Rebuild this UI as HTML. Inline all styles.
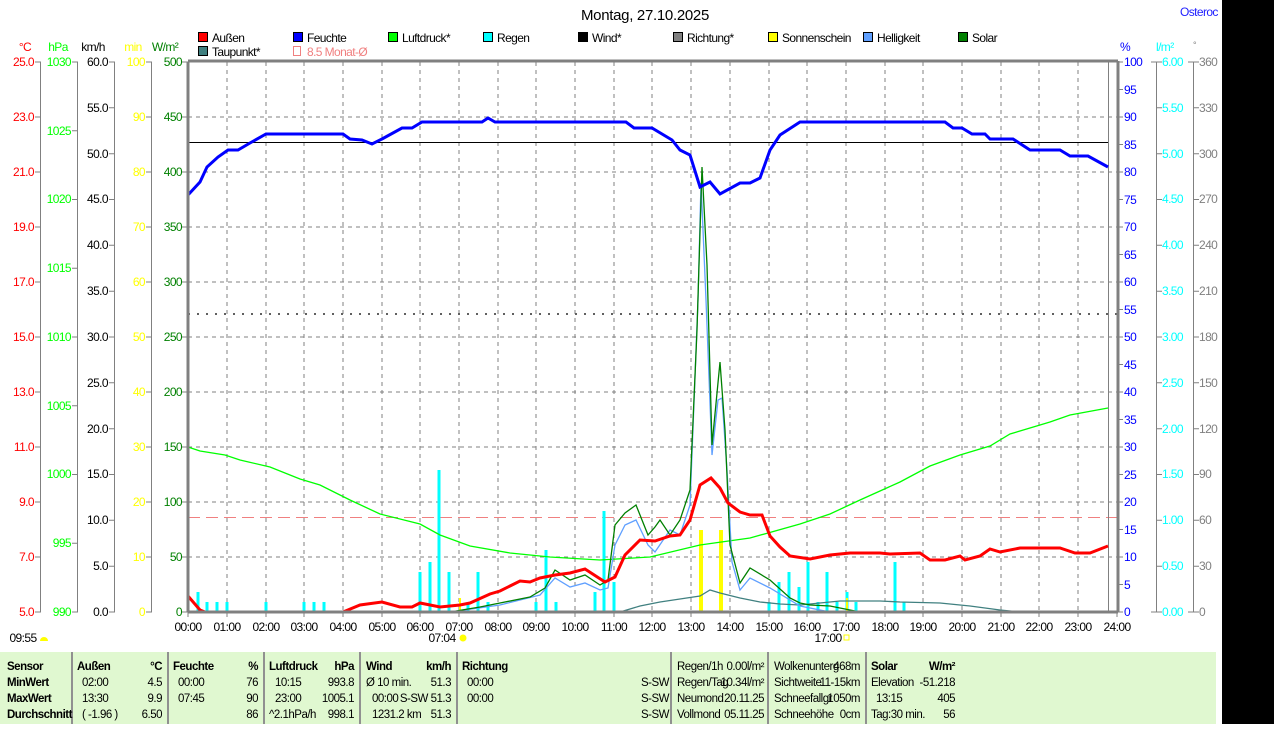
<!DOCTYPE html>
<html><head><meta charset="utf-8"><style>
body{margin:0;background:#fff;width:1274px;height:724px;overflow:hidden;position:relative;font-family:"Liberation Sans",Arial,sans-serif}
svg text{font-family:"Liberation Sans",Arial,sans-serif;font-size:12px;letter-spacing:-0.6px}
.tb text{font-size:11.5px;letter-spacing:-0.5px}
</style></head><body>
<svg width="1274" height="724" viewBox="0 0 1274 724" xmlns="http://www.w3.org/2000/svg">
<rect x="1222" y="0" width="52" height="724" fill="#000"/>
<text x="645" y="20" text-anchor="middle" style="font-size:15px;letter-spacing:-0.3px" fill="#000">Montag, 27.10.2025</text>
<text x="1180" y="16" fill="#2020ff">Osteroc</text>
<g stroke="#000" stroke-width="1">
<rect x="198.5" y="32.5" width="9" height="9" fill="#f00"/>
<rect x="293.5" y="32.5" width="9" height="9" fill="#00f"/>
<rect x="388.5" y="32.5" width="9" height="9" fill="#0f0"/>
<rect x="483.5" y="32.5" width="9" height="9" fill="#0ff"/>
<rect x="578.5" y="32.5" width="9" height="9" fill="#000"/>
<rect x="673.5" y="32.5" width="9" height="9" fill="#808080"/>
<rect x="768.5" y="32.5" width="9" height="9" fill="#ff0"/>
<rect x="863.5" y="32.5" width="9" height="9" fill="#60a0ff"/>
<rect x="958.5" y="32.5" width="9" height="9" fill="#008000"/>
<rect x="198.5" y="46.5" width="9" height="9" fill="#408080"/>
</g>
<rect x="293.5" y="46.5" width="7" height="9" fill="none" stroke="#f08080"/>
<g fill="#000">
<text x="212" y="42">Außen</text><text x="307" y="42">Feuchte</text><text x="402" y="42">Luftdruck*</text>
<text x="497" y="42">Regen</text><text x="592" y="42">Wind*</text><text x="687" y="42">Richtung*</text>
<text x="782" y="42">Sonnenschein</text><text x="877" y="42">Helligkeit</text><text x="972" y="42">Solar</text>
<text x="212" y="56">Taupunkt*</text></g>
<text x="307" y="56" fill="#f08080">8.5 Monat-Ø</text>
<text x="25" y="51" text-anchor="middle" fill="#f00">°C</text>
<text x="58" y="51" text-anchor="middle" fill="#0f0">hPa</text>
<text x="93" y="51" text-anchor="middle" fill="#000">km/h</text>
<text x="133" y="51" text-anchor="middle" fill="#ff0">min</text>
<text x="165" y="51" text-anchor="middle" fill="#008000">W/m²</text>
<text x="1120" y="51" fill="#00f">%</text>
<text x="1156" y="51" fill="#0ff">l/m²</text>
<text x="1193" y="48" fill="#808080" style="font-size:9px">°</text>
<g stroke="#808080" stroke-dasharray="4,4" stroke-width="1">
<path d="M227 62V612M266 62V612M304 62V612M343 62V612M382 62V612M420 62V612M459 62V612M498 62V612M536 62V612M575 62V612M614 62V612M652 62V612M691 62V612M730 62V612M769 62V612M807 62V612M846 62V612M885 62V612M923 62V612M962 62V612M1001 62V612M1039 62V612M1078 62V612"/>
<path d="M188 117H1117M188 172H1117M188 227H1117M188 282H1117M188 337H1117M188 392H1117M188 447H1117M188 502H1117M188 557H1117"/>
</g>
<path d="M188 314H1117" stroke="#606060" stroke-width="2" stroke-dasharray="2,7"/>
<path d="M188 517.5H1117" stroke="#f08080" stroke-dasharray="12,6"/>
<path d="M188 142.5H1108" stroke="#000"/>
<path d="M1108.5 62V612" stroke="#808080"/>
<g stroke="#808080" stroke-width="1" fill="none">
<path d="M40.5 62V612M77.5 62V612M114.5 62V612M151.5 62V612"/>
<path d="M35 62H41M35 117H41M35 172H41M35 227H41M35 282H41M35 337H41M35 392H41M35 447H41M35 502H41M35 557H41M35 612H41"/>
<path d="M72 62H78M72 130.75H78M72 199.5H78M72 268.25H78M72 337H78M72 405.75H78M72 474.5H78M72 543.25H78M72 612H78"/>
<path d="M109 62H115M109 107.8H115M109 153.7H115M109 199.5H115M109 245.3H115M109 291.2H115M109 337H115M109 382.8H115M109 428.7H115M109 474.5H115M109 520.3H115M109 566.2H115M109 612H115"/>
<path d="M146 62H152M146 117H152M146 172H152M146 227H152M146 282H152M146 337H152M146 392H152M146 447H152M146 502H152M146 557H152M146 612H152"/>
<path d="M182 62H188M182 117H188M182 172H188M182 227H188M182 282H188M182 337H188M182 392H188M182 447H188M182 502H188M182 557H188M182 612H188"/>
<path d="M1156.5 62V612M1193.5 62V612"/>
<path d="M1117 62H1123M1117 89.5H1123M1117 117H1123M1117 144.5H1123M1117 172H1123M1117 199.5H1123M1117 227H1123M1117 254.5H1123M1117 282H1123M1117 309.5H1123M1117 337H1123M1117 364.5H1123M1117 392H1123M1117 419.5H1123M1117 447H1123M1117 474.5H1123M1117 502H1123M1117 529.5H1123M1117 557H1123M1117 584.5H1123M1117 612H1123"/>
<path d="M1151 62H1162M1156 107.8H1162M1156 153.7H1162M1156 199.5H1162M1156 245.3H1162M1156 291.2H1162M1156 337H1162M1156 382.8H1162M1156 428.7H1162M1156 474.5H1162M1156 520.3H1162M1156 566.2H1162M1151 612H1162"/>
<path d="M1188 62H1199M1193 107.8H1199M1193 153.7H1199M1193 199.5H1199M1193 245.3H1199M1193 291.2H1199M1193 337H1199M1193 382.8H1199M1193 428.7H1199M1193 474.5H1199M1193 520.3H1199M1193 566.2H1199M1188 612H1199"/>
<path d="M188 612V617M227 612V617M266 612V617M304 612V617M343 612V617M382 612V617M420 612V617M459 612V617M498 612V617M536 612V617M575 612V617M614 612V617M652 612V617M691 612V617M730 612V617M769 612V617M807 612V617M846 612V617M885 612V617M923 612V617M962 612V617M1001 612V617M1039 612V617M1078 612V617M1117 612V617"/>
</g>
<g text-anchor="end" fill="#f00">
<text x="34" y="66">25.0</text><text x="34" y="121">23.0</text><text x="34" y="176">21.0</text><text x="34" y="231">19.0</text><text x="34" y="286">17.0</text><text x="34" y="341">15.0</text><text x="34" y="396">13.0</text><text x="34" y="451">11.0</text><text x="34" y="506">9.0</text><text x="34" y="561">7.0</text><text x="34" y="616">5.0</text></g>
<g text-anchor="end" fill="#0f0">
<text x="71" y="66">1030</text><text x="71" y="135">1025</text><text x="71" y="203">1020</text><text x="71" y="272">1015</text><text x="71" y="341">1010</text><text x="71" y="410">1005</text><text x="71" y="478">1000</text><text x="71" y="547">995</text><text x="71" y="616">990</text></g>
<g text-anchor="end" fill="#000">
<text x="108" y="66">60.0</text><text x="108" y="112">55.0</text><text x="108" y="158">50.0</text><text x="108" y="203">45.0</text><text x="108" y="249">40.0</text><text x="108" y="295">35.0</text><text x="108" y="341">30.0</text><text x="108" y="387">25.0</text><text x="108" y="433">20.0</text><text x="108" y="478">15.0</text><text x="108" y="524">10.0</text><text x="108" y="570">5.0</text><text x="108" y="616">0.0</text></g>
<g text-anchor="end" fill="#ff0">
<text x="145" y="66">100</text><text x="145" y="121">90</text><text x="145" y="176">80</text><text x="145" y="231">70</text><text x="145" y="286">60</text><text x="145" y="341">50</text><text x="145" y="396">40</text><text x="145" y="451">30</text><text x="145" y="506">20</text><text x="145" y="561">10</text><text x="145" y="616">0</text></g>
<g text-anchor="end" fill="#008000">
<text x="182" y="66">500</text><text x="182" y="121">450</text><text x="182" y="176">400</text><text x="182" y="231">350</text><text x="182" y="286">300</text><text x="182" y="341">250</text><text x="182" y="396">200</text><text x="182" y="451">150</text><text x="182" y="506">100</text><text x="182" y="561">50</text><text x="182" y="616">0</text></g>
<g fill="#00f">
<text x="1124" y="66">100</text><text x="1124" y="94">95</text><text x="1124" y="121">90</text><text x="1124" y="149">85</text><text x="1124" y="176">80</text><text x="1124" y="204">75</text><text x="1124" y="231">70</text><text x="1124" y="259">65</text><text x="1124" y="286">60</text><text x="1124" y="314">55</text><text x="1124" y="341">50</text><text x="1124" y="369">45</text><text x="1124" y="396">40</text><text x="1124" y="424">35</text><text x="1124" y="451">30</text><text x="1124" y="479">25</text><text x="1124" y="506">20</text><text x="1124" y="534">15</text><text x="1124" y="561">10</text><text x="1124" y="589">5</text><text x="1124" y="616">0</text></g>
<g fill="#0ff">
<text x="1162" y="66">6.00</text><text x="1162" y="112">5.50</text><text x="1162" y="158">5.00</text><text x="1162" y="203">4.50</text><text x="1162" y="249">4.00</text><text x="1162" y="295">3.50</text><text x="1162" y="341">3.00</text><text x="1162" y="387">2.50</text><text x="1162" y="433">2.00</text><text x="1162" y="478">1.50</text><text x="1162" y="524">1.00</text><text x="1162" y="570">0.50</text><text x="1162" y="616">0.00</text></g>
<g fill="#808080">
<text x="1199" y="66">360</text><text x="1199" y="112">330</text><text x="1199" y="158">300</text><text x="1199" y="203">270</text><text x="1199" y="249">240</text><text x="1199" y="295">210</text><text x="1199" y="341">180</text><text x="1199" y="387">150</text><text x="1199" y="433">120</text><text x="1199" y="478">90</text><text x="1199" y="524">60</text><text x="1199" y="570">30</text><text x="1199" y="616">0</text></g>
<g text-anchor="middle" fill="#000">
<text x="188" y="631">00:00</text><text x="227" y="631">01:00</text><text x="266" y="631">02:00</text><text x="304" y="631">03:00</text><text x="343" y="631">04:00</text><text x="382" y="631">05:00</text><text x="420" y="631">06:00</text><text x="459" y="631">07:00</text><text x="498" y="631">08:00</text><text x="536" y="631">09:00</text><text x="575" y="631">10:00</text><text x="614" y="631">11:00</text><text x="652" y="631">12:00</text><text x="691" y="631">13:00</text><text x="730" y="631">14:00</text><text x="769" y="631">15:00</text><text x="807" y="631">16:00</text><text x="846" y="631">17:00</text><text x="885" y="631">18:00</text><text x="923" y="631">19:00</text><text x="962" y="631">20:00</text><text x="1001" y="631">21:00</text><text x="1039" y="631">22:00</text><text x="1078" y="631">23:00</text><text x="1117" y="631">24:00</text>
<text x="442" y="642">07:04</text><text x="828" y="642">17:00</text><text x="23" y="642">09:55</text></g>
<circle cx="463" cy="638" r="3.5" fill="#ff0"/>
<rect x="844" y="635" width="5" height="5" fill="none" stroke="#ff0"/>
<path d="M40 641a4 4 0 0 1 8 0z" fill="#ff0"/>
<g stroke="#0ff" stroke-width="3">
<path d="M198 612V592M207 612V602M217 612V602M227 612V602M266 612V602M304 612V602M314 612V602M324 612V602M420 612V572M430 612V562M439 612V470M449 612V572M468 612V602M478 612V572M488 612V602M536 612V602M546 612V550M556 612V602M595 612V592M604 612V511M614 612V582M769 612V602M779 612V582M789 612V572M799 612V587M808 612V562M818 612V602M827 612V572M837 612V602M847 612V592M856 612V602M895 612V562M904 612V602"/>
</g>
<g stroke="#ff0" stroke-width="4"><path d="M701 612V530M721 612V530"/></g>
<path d="M460 612V598M847 612V598" stroke="#ff0" stroke-width="2"/>
<polyline fill="none" stroke="#408080" stroke-width="1.3" points="620,612 640,606 660,602 680,599 700,596 710,590 720,593 740,598 760,602 780,604 800,605 840,601 880,601 900,602 940,603 970,606 1000,610 1020,612"/>
<polyline fill="none" stroke="#0f0" stroke-width="1.3" points="188,447 200,451 225,455 240,460 270,467 300,479 320,485 350,500 380,514 420,524 440,535 470,546 510,553 550,557 600,560 650,557 700,545 750,538 800,524 830,514 860,500 900,482 930,466 960,455 990,446 1010,434 1050,422 1070,415 1108,408"/>
<polyline fill="none" stroke="#60a0ff" stroke-width="1.3" points="450,612 500,605 540,595 555,578 570,587 585,583 600,590 608,588 615,545 625,525 636,520 648,545 655,552 670,530 680,535 690,505 698,300 701,183 706,300 712,455 718,400 722,398 727,470 732,562 740,590 750,578 770,588 790,600 800,606 830,612"/>
<polyline fill="none" stroke="#008000" stroke-width="1.3" points="450,612 480,607 500,603 530,597 545,588 555,570 570,580 585,575 600,585 608,580 615,525 625,513 636,505 648,535 655,527 660,520 670,535 680,520 690,490 697,330 702,167 707,265 712,445 720,362 725,430 730,545 740,583 750,568 770,580 790,598 800,603 810,605 830,606 860,612"/>
<polyline fill="none" stroke="#f00" stroke-width="3" points="188,596 200,610 205,612 343,612 360,605 382,602 400,607 412,607 420,603 440,607 460,605 470,603 490,594 500,591 510,586 520,581 530,582 540,578 555,575 570,573 585,569 605,582 615,577 625,555 640,540 655,541 670,536 680,535 690,520 700,485 711,478 720,488 728,503 740,512 750,515 762,515 770,536 780,547 790,556 810,559 830,555 850,553 880,553 890,554 920,553 930,560 945,560 960,556 965,560 980,556 990,549 1000,552 1020,548 1060,548 1075,553 1090,553 1108,546"/>
<polyline fill="none" stroke="#00f" stroke-width="3" points="188,195 200,182 207,167 218,157 228,150 238,150 250,143 266,134 343,134 350,139 362,140 372,144 382,139 402,128 412,128 422,122 482,122 488,118 495,122 626,122 634,128 652,128 672,140 680,150 690,155 700,187 710,182 720,194 740,183 750,183 760,178 770,150 780,135 800,122 945,122 953,128 962,128 972,134 985,134 990,139 1013,139 1030,150 1060,150 1070,156 1088,156 1108,167"/>
<path d="M188 62V612M188 61H1118M1118 61V612M188 612H1118" stroke="#808080" stroke-width="3" fill="none"/>
<rect x="0" y="652" width="1216" height="72" fill="#e0f8d0"/>
<g stroke="#909090" stroke-width="2"><path d="M72 652V724M168 652V724M264 652V724M360 652V724M457 652V724M671 652V724M768 652V724M866 652V724"/></g>
<g class="tb" fill="#000">
<text x="7" y="670" font-weight="bold">Sensor</text><text x="7" y="686" font-weight="bold">MinWert</text><text x="7" y="702" font-weight="bold">MaxWert</text><text x="7" y="718" font-weight="bold">Durchschnitt</text>
<text x="77" y="670" font-weight="bold">Außen</text><text x="162" y="670" font-weight="bold" text-anchor="end">°C</text>
<text x="173" y="670" font-weight="bold">Feuchte</text><text x="258" y="670" font-weight="bold" text-anchor="end">%</text>
<text x="269" y="670" font-weight="bold">Luftdruck</text><text x="354" y="670" font-weight="bold" text-anchor="end">hPa</text>
<text x="366" y="670" font-weight="bold">Wind</text><text x="451" y="670" font-weight="bold" text-anchor="end">km/h</text>
<text x="462" y="670" font-weight="bold">Richtung</text>
<text x="871" y="670" font-weight="bold">Solar</text><text x="955" y="670" font-weight="bold" text-anchor="end">W/m²</text>
<text x="82" y="686">02:00</text><text x="162" y="686" text-anchor="end">4.5</text>
<text x="82" y="702">13:30</text><text x="162" y="702" text-anchor="end">9.9</text>
<text x="82" y="718">( -1.96 )</text><text x="162" y="718" text-anchor="end">6.50</text>
<text x="178" y="686">00:00</text><text x="258" y="686" text-anchor="end">76</text>
<text x="178" y="702">07:45</text><text x="258" y="702" text-anchor="end">90</text>
<text x="258" y="718" text-anchor="end">86</text>
<text x="275" y="686">10:15</text><text x="354" y="686" text-anchor="end">993.8</text>
<text x="275" y="702">23:00</text><text x="354" y="702" text-anchor="end">1005.1</text>
<text x="269" y="718">^2.1hPa/h</text><text x="354" y="718" text-anchor="end">998.1</text>
<text x="366" y="686">Ø 10 min.</text><text x="451" y="686" text-anchor="end">51.3</text>
<text x="372" y="702">00:00</text><text x="451" y="702" text-anchor="end">S-SW 51.3</text>
<text x="372" y="718">1231.2 km</text><text x="451" y="718" text-anchor="end">51.3</text>
<text x="467" y="686">00:00</text><text x="669" y="686" text-anchor="end">S-SW</text>
<text x="467" y="702">00:00</text><text x="669" y="702" text-anchor="end">S-SW</text>
<text x="669" y="718" text-anchor="end">S-SW</text>
<text x="677" y="670">Regen/1h</text><text x="764" y="670" text-anchor="end">0.00l/m²</text>
<text x="677" y="686">Regen/Tag</text><text x="764" y="686" text-anchor="end">10.34l/m²</text>
<text x="677" y="702">Neumond</text><text x="764" y="702" text-anchor="end">20.11.25</text>
<text x="677" y="718">Vollmond</text><text x="764" y="718" text-anchor="end">05.11.25</text>
<text x="774" y="670">Wolkenunterg</text><text x="860" y="670" text-anchor="end">468m</text>
<text x="774" y="686">Sichtweite</text><text x="860" y="686" text-anchor="end">11-15km</text>
<text x="774" y="702">Schneefallgr</text><text x="860" y="702" text-anchor="end">1050m</text>
<text x="774" y="718">Schneehöhe</text><text x="860" y="718" text-anchor="end">0cm</text>
<text x="871" y="686">Elevation</text><text x="955" y="686" text-anchor="end">-51.218</text>
<text x="876" y="702">13:15</text><text x="955" y="702" text-anchor="end">405</text>
<text x="871" y="718">Tag:30 min.</text><text x="955" y="718" text-anchor="end">56</text>
</g>
</svg>
</body></html>
